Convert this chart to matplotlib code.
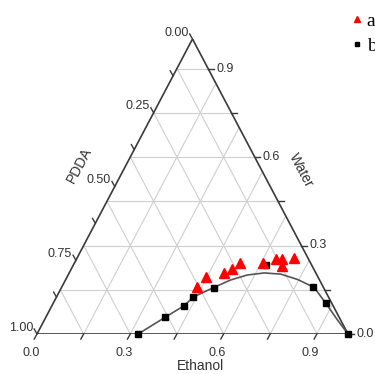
import numpy as np
import matplotlib
matplotlib.use("Agg")
import matplotlib.pyplot as plt
from matplotlib.lines import Line2D

# ternary data: Ethanol fraction and Water fraction (PDDA = 1 - E - W)
tri_ethanol = [0.436, 0.445, 0.497, 0.517, 0.531, 0.607, 0.641, 0.660, 0.671, 0.697]
tri_water = [0.158, 0.194, 0.208, 0.219, 0.242, 0.242, 0.254, 0.254, 0.231, 0.257]

sq_ethanol = [0.325, 0.382, 0.425, 0.441, 0.491, 0.618, 0.809, 0.877, 1.0]
sq_water = [0.0, 0.057, 0.095, 0.124, 0.155, 0.234, 0.160, 0.104, 0.0]

curve_ethanol = [0.325, 0.382, 0.424, 0.441, 0.490, 0.531, 0.576, 0.627,
                 0.682, 0.745, 0.812, 0.877, 0.943, 1.0]
curve_water = [0.0, 0.055, 0.095, 0.126, 0.158, 0.183, 0.200, 0.207,
               0.203, 0.185, 0.158, 0.104, 0.047, 0.0]

ethanol_ticks = [0.0, 0.15, 0.3, 0.45, 0.6, 0.75, 0.9]
ethanol_labels = ["0.0", "", "0.3", "", "0.6", "", "0.9"]
water_ticks = [0.0, 0.15, 0.3, 0.45, 0.6, 0.75, 0.9]
water_labels = ["0.0", "", "0.3", "", "0.6", "", "0.9"]
pdda_ticks = [0.0, 0.125, 0.25, 0.375, 0.5, 0.625, 0.75, 0.875, 1.0]
pdda_labels = ["0.00", "", "0.25", "", "0.50", "", "0.75", "", "1.00"]
grid_steps = [0.15, 0.3, 0.45, 0.6, 0.75, 0.9]


def to_xy(e, w):
    """ternary (ethanol, water) -> plot coords"""
    e = np.asarray(e, dtype=float)
    w = np.asarray(w, dtype=float)
    return e + w / 2.0, w


plt.rcParams['font.family'] = ['Liberation Sans', 'DejaVu Sans']
fig = plt.figure(figsize=(3.75, 3.74), dpi=100)
ax = fig.add_axes([37 / 375, 40 / 374, 311 / 375, 295 / 374])
ax.set_xlim(0, 1)
ax.set_ylim(0, 1)
ax.axis('off')

edge_c = '#3a3a3a'
grid_c = '#cfcfcf'
txt_c = '#333333'

# grid: constant water (horizontal), constant ethanol, constant pdda
for g in grid_steps:
    x, y = to_xy([0, 1 - g], [g, g])
    ax.plot(x, y, color=grid_c, lw=0.8, zorder=1)
    x, y = to_xy([g, g], [0, 1 - g])
    ax.plot(x, y, color=grid_c, lw=0.8, zorder=1)
    x, y = to_xy([g, 0], [0, g])
    ax.plot(x, y, color=grid_c, lw=0.8, zorder=1)

# triangle frame
x, y = to_xy([0, 1, 0, 0], [0, 0, 1, 0])
ax.plot(x, y, color=edge_c, lw=1.2, zorder=2, solid_joinstyle='miter')

# ticks
tl = 0.018
for t, lab in zip(ethanol_ticks, ethanol_labels):
    x0, y0 = to_xy(t, 0)
    ax.plot([x0, x0 - tl * 0.5], [y0, y0 - tl * 0.95], color=edge_c, lw=1.0,
            clip_on=False)
    if lab:
        ax.text(x0 - 0.02, -0.045, lab, ha='center', va='top', fontsize=9,
                color=txt_c)
for t, lab in zip(water_ticks, water_labels):
    x0, y0 = to_xy(1 - t, t)
    ax.plot([x0, x0 + tl], [y0, y0], color=edge_c, lw=1.0, clip_on=False)
    if lab:
        ax.text(x0 + tl + 0.008, y0, lab, ha='left', va='center', fontsize=9,
                color=txt_c)
for t, lab in zip(pdda_ticks, pdda_labels):
    x0, y0 = to_xy(0, 1 - t)
    ax.plot([x0, x0 - tl * 0.5], [y0, y0 + tl * 0.95], color=edge_c, lw=1.0,
            clip_on=False)
    if lab:
        ax.text(x0 - tl * 0.5 - 0.004, y0 + 0.022, lab, ha='right', va='center',
                fontsize=9, color=txt_c)

# axis titles
ax.text(0.525, -0.11, "Ethanol", ha='center', va='center', fontsize=10,
        color=txt_c)
ax.text(0.136, 0.573, "PDDA", ha='center', va='center', fontsize=10,
        color=txt_c, rotation=62)
ax.text(0.848, 0.555, "Water", ha='center', va='center', fontsize=10,
        color=txt_c, rotation=-62)

# data
x, y = to_xy(curve_ethanol, curve_water)
ax.plot(x, y, color='#555555', lw=1.2, zorder=3, clip_on=False)
x, y = to_xy(sq_ethanol, sq_water)
ax.plot(x, y, 's', color='black', ms=4, zorder=4, clip_on=False)
x, y = to_xy(tri_ethanol, tri_water)
ax.plot(x, y, '^', color='#ff0000', mec='#ff0000', ms=7, zorder=5,
        clip_on=False)

handles = [Line2D([], [], ls='none', marker='^', color='#ff0000', ms=5),
           Line2D([], [], ls='none', marker='s', color='black', ms=3.5)]
fig.legend(handles, ['a', 'b'], loc='upper left',
           bbox_to_anchor=(352 / 375, 1 - 12 / 374), frameon=False,
           handlelength=0.5, handletextpad=0.25, labelspacing=0.38,
           borderaxespad=0, borderpad=0,
           prop={'family': 'Liberation Serif', 'size': 14})

fig.savefig("out.png", dpi=100)
